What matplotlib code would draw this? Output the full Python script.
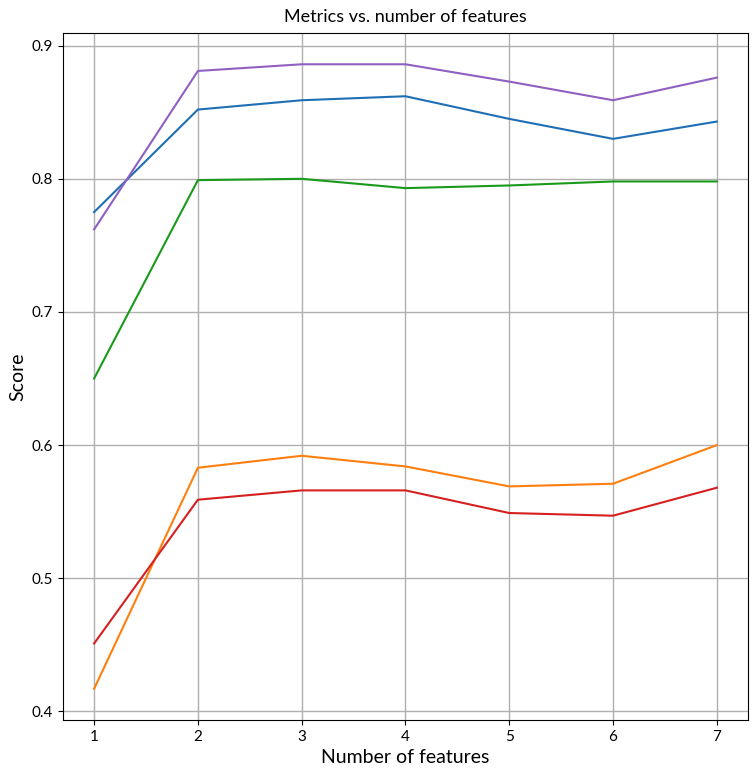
import matplotlib
matplotlib.use("Agg")
import matplotlib.pyplot as plt

plt.rcParams['font.family'] = ['Lato', 'DejaVu Sans']

n_features = [1, 2, 3, 4, 5, 6, 7]
series_blue = [0.775, 0.852, 0.859, 0.862, 0.845, 0.830, 0.843]
series_orange = [0.417, 0.583, 0.592, 0.584, 0.569, 0.571, 0.600]
series_green = [0.650, 0.799, 0.800, 0.793, 0.795, 0.798, 0.798]
series_red = [0.451, 0.559, 0.566, 0.566, 0.549, 0.547, 0.568]
series_purple = [0.762, 0.881, 0.886, 0.886, 0.873, 0.859, 0.876]

fig = plt.figure(figsize=(7.55, 7.69), dpi=100)
ax = fig.add_axes([0.0834, 0.0637, 0.9073, 0.8933])

for vals, c in [(series_blue, '#1f6fb4'), (series_orange, '#ff7f0e'),
                (series_green, '#1a9a1a'), (series_red, '#d62020'),
                (series_purple, '#9060c0')]:
    ax.plot(n_features, vals, color=c, lw=1.5)

ax.grid(True, color='#b0b0b0', lw=1)
ax.set_title('Metrics vs. number of features', fontsize=13, pad=8)
ax.set_xlabel('Number of features', fontsize=14)
ax.set_ylabel('Score', fontsize=14)
ax.tick_params(labelsize=11)
ax.set_yticks([0.4, 0.5, 0.6, 0.7, 0.8, 0.9])

fig.savefig('out.png', dpi=100)
